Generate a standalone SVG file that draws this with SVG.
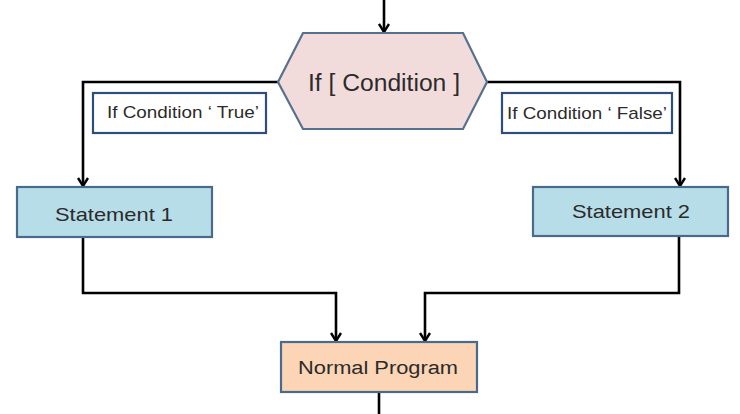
<svg xmlns="http://www.w3.org/2000/svg" width="740" height="414" viewBox="0 0 740 414">
<defs>
<marker id="arr" viewBox="0 0 12 12" refX="11" refY="6" markerWidth="12" markerHeight="12" markerUnits="userSpaceOnUse" orient="auto">
<path d="M3,1 L11,6 L3,11" fill="none" stroke="#000" stroke-width="2.4"/>
</marker>
</defs>
<style>
.t{font-family:"Liberation Sans",Arial,sans-serif;fill:#2b2b2b;text-anchor:middle}
.c{fill:none;stroke:#000;stroke-width:2.6}
.stmt{fill:#b7dde8;stroke:#4a6a8c;stroke-width:2.2}
.lbl{fill:#fff;stroke:#2e4d7a;stroke-width:2.2}
</style>
<rect width="740" height="414" fill="#fff"/>
<g id="connectors">
<path class="c" d="M384,0 V32" marker-end="url(#arr)"/>
<path class="c" d="M278,82 H83 V186" marker-end="url(#arr)"/>
<path class="c" d="M487,82 H680 V186" marker-end="url(#arr)"/>
<path class="c" d="M83,237 V293 H336 V341" marker-end="url(#arr)"/>
<path class="c" d="M679,237 V293 H425 V341" marker-end="url(#arr)"/>
<path class="c" d="M379,392 V414"/>
</g>
<g id="condition">
<polygon points="278,82 303,33 463,33 487,82 463,129 303,129" fill="#f2dcdb" stroke="#56708f" stroke-width="2.2"/>
<text class="t" x="384" y="91" font-size="23" textLength="152" lengthAdjust="spacingAndGlyphs">If [ Condition ]</text>
</g>
<g id="label-true">
<rect class="lbl" x="93" y="93" width="173" height="40"/>
<text class="t" x="183" y="118" font-size="17" textLength="152" lengthAdjust="spacingAndGlyphs">If Condition ‘ True’</text>
</g>
<g id="label-false">
<rect class="lbl" x="502" y="93" width="170" height="40"/>
<text class="t" x="587" y="119" font-size="17" textLength="160" lengthAdjust="spacingAndGlyphs">If Condition ‘ False’</text>
</g>
<g id="statement1">
<rect class="stmt" x="17" y="187" width="195" height="50"/>
<text class="t" x="114" y="221" font-size="19" textLength="118" lengthAdjust="spacingAndGlyphs">Statement  1</text>
</g>
<g id="statement2">
<rect class="stmt" x="533" y="187" width="195" height="49"/>
<text class="t" x="631" y="218" font-size="19" textLength="118" lengthAdjust="spacingAndGlyphs">Statement  2</text>
</g>
<g id="normal-program">
<rect x="281" y="342" width="196" height="50" fill="#fbd5b5" stroke="#4a6a8c" stroke-width="2.2"/>
<text class="t" x="378" y="374" font-size="18" textLength="160" lengthAdjust="spacingAndGlyphs">Normal  Program</text>
</g>
</svg>
